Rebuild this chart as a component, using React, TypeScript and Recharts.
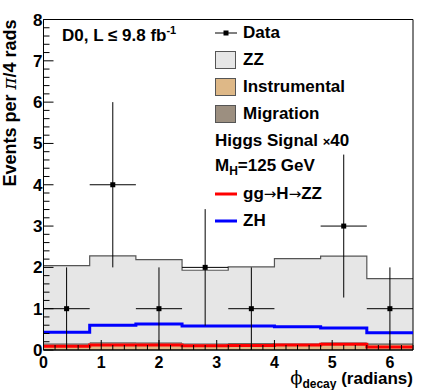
import React from 'react'
import { ComposedChart, Area, Line, Scatter, ErrorBar, XAxis, YAxis, ReferenceArea, Legend } from 'recharts'

// histogram bins (width 0.8 rad), last edge repeats the last bin for the step
const binEdges = [0, 0.8, 1.6, 2.4, 3.2, 4.0, 4.8, 5.6, 6.4]
const instrumental = [0.13, 0.15, 0.15, 0.12, 0.15, 0.12, 0.14, 0.14]
const migration = [0.03, 0.04, 0.03, 0.04, 0.02, 0.04, 0.04, 0.02]
const zz = [1.88, 2.09, 2.01, 1.77, 1.84, 2.05, 2.09, 1.57]
const ggH = [0.09, 0.12, 0.12, 0.1, 0.11, 0.12, 0.14, 0.07]
const zh = [0.43, 0.6, 0.63, 0.58, 0.58, 0.56, 0.53, 0.42]

// data points
const dataX = [0.4, 1.2, 2.0, 2.8, 3.6, 5.2, 6.0]
const dataY = [1, 4, 1, 2, 1, 3, 1]
const dataErrY = [1, 2, 1, 1.41, 1, 1.73, 1]
const dataErrX = [0.4, 0.4, 0.4, 0.4, 0.4, 0.4, 0.4]

const xMajor = [0, 1, 2, 3, 4, 5, 6]
const yMajor = [0, 1, 2, 3, 4, 5, 6, 7, 8]
const xTicks = Array.from({ length: 33 }, (_, i) => +(i * 0.2).toFixed(1))
const yTicks = Array.from({ length: 41 }, (_, i) => +(i * 0.2).toFixed(1))

const FONT = '"Liberation Sans", Arial, Helvetica, sans-serif'
const SYM = '"DejaVu Sans", sans-serif'

const histData = binEdges.map((x, i) => {
  const j = Math.min(i, zz.length - 1)
  return { x, instrumental: instrumental[j], migration: migration[j], zz: zz[j], ggH: ggH[j], zh: zh[j] }
})

const points = dataX.map((x, i) => ({ x, y: dataY[i], ey: dataErrY[i], ex: dataErrX[i] }))

const isMajor = (v: number, majors: number[]) => majors.some((m) => Math.abs(m - v) < 1e-6)

function XTick({ x, y, payload }: any) {
  const v = payload.value
  const major = isMajor(v, xMajor)
  return (
    <g>
      <line x1={x} x2={x} y1={y} y2={y - (major ? 10 : 5)} stroke="#000" />
      {major && (
        <text x={x} y={y + 18} textAnchor="middle" fontFamily={FONT} fontWeight="bold" fontSize={16} fill="#000">
          {Math.round(v)}
        </text>
      )}
    </g>
  )
}

function YTick({ x, y, payload }: any) {
  const v = payload.value
  const major = isMajor(v, yMajor)
  return (
    <g>
      <line x1={x} x2={x + (major ? 10 : 6)} y1={y} y2={y} stroke="#000" />
      {major && (
        <text x={x - 1} y={y + 6} textAnchor="end" fontFamily={FONT} fontWeight="bold" fontSize={17} fill="#000">
          {Math.round(v)}
        </text>
      )}
    </g>
  )
}

function XTitle({ viewBox }: any) {
  const right = viewBox.x + viewBox.width
  const base = viewBox.y + 34
  return (
    <text x={right} y={base} textAnchor="end" fontFamily={FONT} fontWeight="bold" fontSize={17} fill="#000">
      <tspan fontFamily='"DejaVu Serif", serif' fontWeight="normal" fontSize={18}>ϕ</tspan>
      <tspan fontSize={12} dy={4}>decay</tspan>
      <tspan dy={-4}> (radians)</tspan>
    </text>
  )
}

function YTitle({ viewBox }: any) {
  return (
    <text
      transform={`translate(16, ${viewBox.y}) rotate(-90)`}
      textAnchor="end"
      fontFamily={FONT}
      fontWeight="bold"
      fontSize={18}
      fill="#000"
    >
      Events per <tspan fontFamily='"DejaVu Serif", serif' fontStyle="italic" fontWeight="normal">π</tspan>/4 rads
    </text>
  )
}

const rowH = 26.8

function Swatch({ color }: { color: string }) {
  return <div style={{ width: 21, height: 18, background: color, border: '1px solid #555', boxSizing: 'border-box' }} />
}

function LineMark({ color, width, square }: { color: string; width: number; square?: boolean }) {
  return (
    <svg width={22} height={10}>
      <line x1={0} x2={22} y1={5} y2={5} stroke={color} strokeWidth={width} />
      {square && <rect x={8.5} y={2.5} width={5} height={5} fill="#000" />}
    </svg>
  )
}

const arrow = <span style={{ fontFamily: SYM, fontWeight: 'normal', fontSize: 15 }}>→</span>

function LegendBox() {
  const row = (mark: React.ReactNode, label: React.ReactNode) => (
    <div style={{ height: rowH, display: 'flex', alignItems: 'center' }}>
      {mark && <div style={{ width: 28, display: 'flex', alignItems: 'center' }}>{mark}</div>}
      <span>{label}</span>
    </div>
  )
  return (
    <div style={{ fontFamily: FONT, fontWeight: 'bold', fontSize: 17, color: '#000', whiteSpace: 'nowrap' }}>
      {row(<LineMark color="#000" width={1} square />, 'Data')}
      {row(<Swatch color="#e6e6e6" />, 'ZZ')}
      {row(<Swatch color="#deb887" />, 'Instrumental')}
      {row(<Swatch color="#9c8f80" />, 'Migration')}
      {row(null, <>Higgs Signal <span style={{ fontSize: 13 }}>×</span>40</>)}
      {row(null, <>M<sub style={{ fontSize: 12, verticalAlign: '-4px' }}>H</sub>=125 GeV</>)}
      {row(<LineMark color="#ff0000" width={3} />, <>gg{arrow}H{arrow}ZZ</>)}
      {row(<LineMark color="#0000ff" width={3} />, 'ZH')}
    </div>
  )
}

export default function App() {
  return (
    <div style={{ position: 'absolute', left: 0, top: 0, width: 436, height: 390, background: '#fff' }}>
      <ComposedChart width={436} height={390} data={histData} margin={{ top: 19.5, right: 23, bottom: 0, left: 0 }}>
        <Area type="stepAfter" dataKey="instrumental" stackId="bg" fill="#deb887" fillOpacity={1} stroke="#444" strokeWidth={1} isAnimationActive={false} />
        <Area type="stepAfter" dataKey="migration" stackId="bg" fill="#9c8f80" fillOpacity={1} stroke="#444" strokeWidth={1} isAnimationActive={false} />
        <Area type="stepAfter" dataKey="zz" stackId="bg" fill="#e6e6e6" fillOpacity={1} stroke="#555" strokeWidth={1.2} isAnimationActive={false} />
        <Line type="stepAfter" dataKey="ggH" stroke="#ff0000" strokeWidth={3} dot={false} isAnimationActive={false} />
        <Line type="stepAfter" dataKey="zh" stroke="#0000ff" strokeWidth={3} dot={false} isAnimationActive={false} />
        <Scatter
          data={points}
          dataKey="y"
          isAnimationActive={false}
          shape={(p: any) => <rect x={p.cx - 2.5} y={p.cy - 2.5} width={5} height={5} fill="#000" />}
        >
          <ErrorBar dataKey="ey" direction="y" width={0} stroke="#000" strokeWidth={1} />
          <ErrorBar dataKey="ex" direction="x" width={0} stroke="#000" strokeWidth={1} />
        </Scatter>
        <ReferenceArea x1={0} x2={6.4} y1={0} y2={8} fill="none" stroke="#000" strokeWidth={1} ifOverflow="visible" />
        <XAxis
          type="number"
          dataKey="x"
          domain={[0, 6.4]}
          ticks={xTicks}
          interval={0}
          allowDataOverflow
          height={40}
          tickSize={0}
          tickMargin={0}
          tickLine={false}
          axisLine={{ stroke: '#000' }}
          tick={<XTick />}
          label={{ content: <XTitle /> }}
          zIndex={900}
        />
        <YAxis
          type="number"
          domain={[0, 8]}
          ticks={yTicks}
          interval={0}
          allowDataOverflow
          width={43.5}
          tickSize={0}
          tickMargin={0}
          tickLine={false}
          axisLine={{ stroke: '#000' }}
          tick={<YTick />}
          label={{ content: <YTitle /> }}
          zIndex={900}
        />
        <Legend
          layout="vertical"
          align="center"
          verticalAlign="middle"
          wrapperStyle={{ left: 215, top: 20, width: 200 }}
          content={<LegendBox />}
        />
      </ComposedChart>
      <div style={{ position: 'absolute', left: 62, top: 24.5, fontFamily: FONT, fontWeight: 'bold', fontSize: 17, lineHeight: 1, whiteSpace: 'nowrap' }}>
        D0, L ≤ 9.8 fb<sup style={{ fontSize: 11, verticalAlign: '7px' }}>-1</sup>
      </div>
    </div>
  )
}
